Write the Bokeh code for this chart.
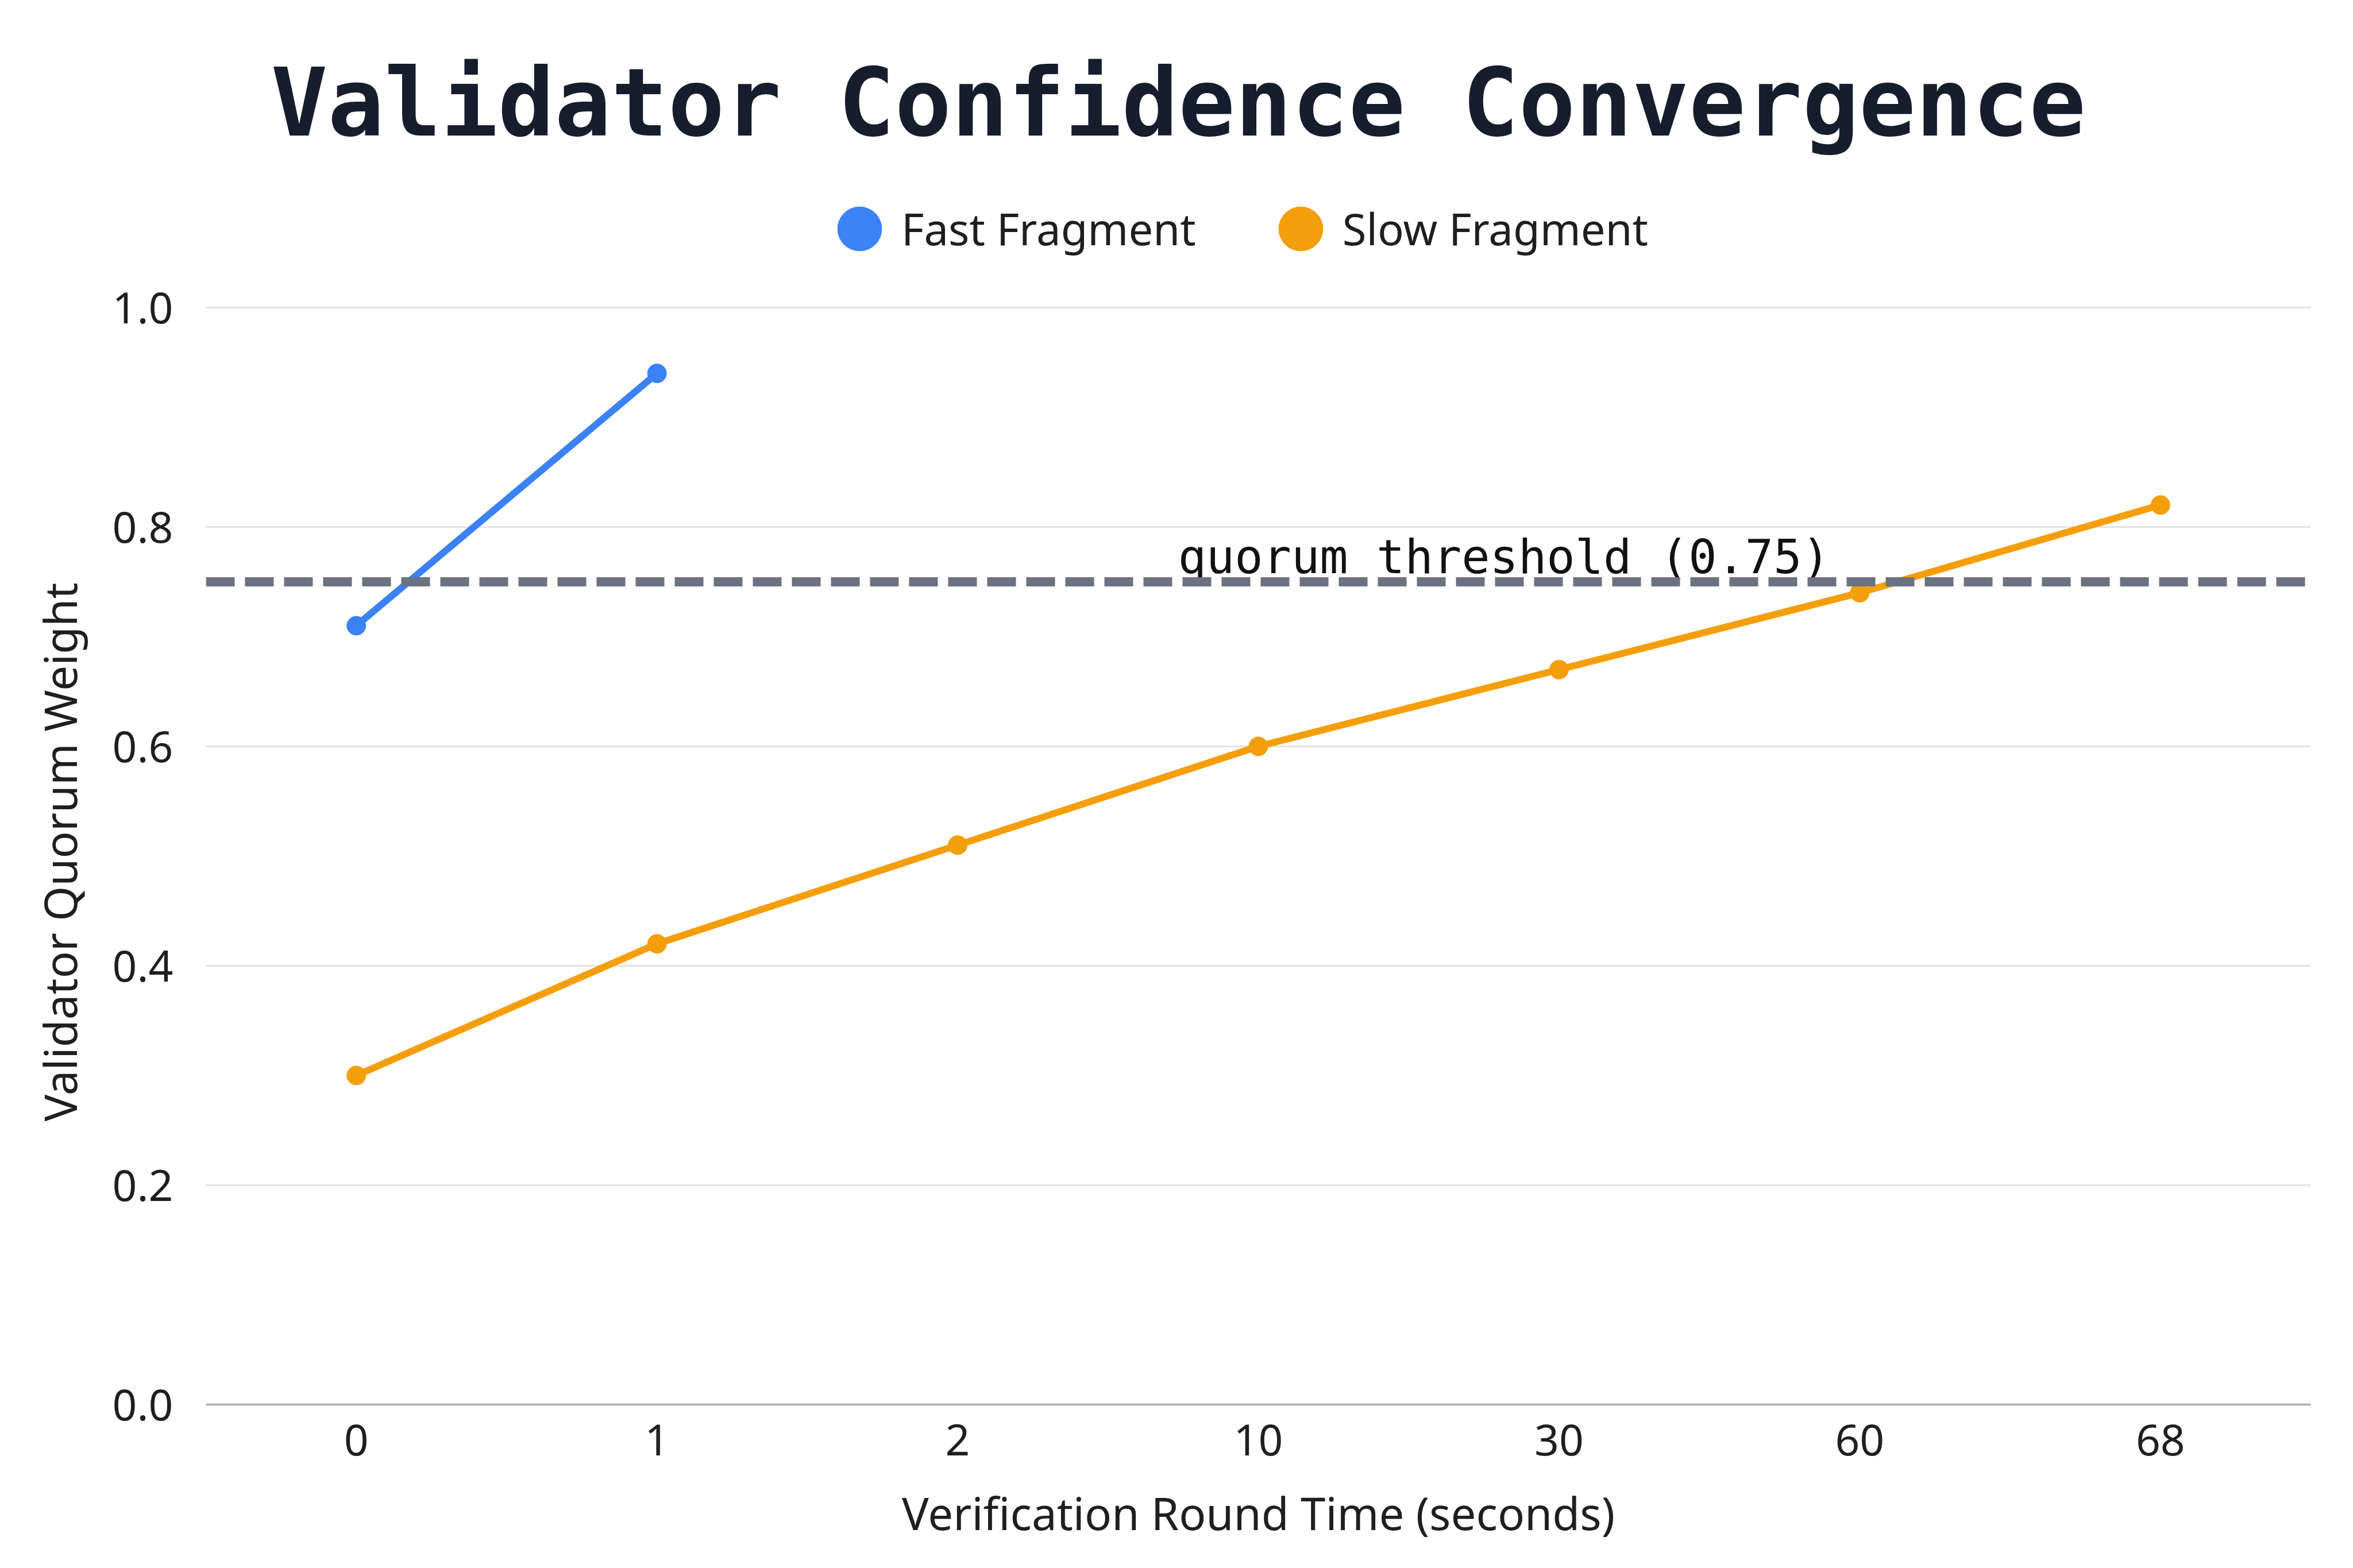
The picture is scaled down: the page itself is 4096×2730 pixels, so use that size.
from bokeh.plotting import figure
from bokeh.models import (FactorRange, Range1d, Span, Legend, LegendItem, Title,
                          FixedTicker, PrintfTickFormatter)
from bokeh.embed import file_html
from bokeh.resources import INLINE
from bokeh.core.properties import value

# ---- data ----
times = ["0", "1", "2", "10", "30", "60", "68"]
fast_times = ["0", "1"]
fast_values = [0.71, 0.94]
slow_times = ["0", "1", "2", "10", "30", "60", "68"]
slow_values = [0.30, 0.42, 0.51, 0.60, 0.67, 0.74, 0.82]
threshold = 0.75
threshold_label = "quorum threshold (0.75)"
y_ticks = [0.0, 0.2, 0.4, 0.6, 0.8, 1.0]
series_names = ["Fast Fragment", "Slow Fragment"]

BLUE = "#3b82f6"
ORANGE = "#f59e0b"
GRAY = "#6b7280"
TEXT = "#1f1f1f"
SANS = "Noto Sans"
MONO = "DejaVu Sans Mono"

# ---- layout geometry (pixels) ----
W, H = 4080, 2700
B_LEFT, B_RIGHT, B_TOP, B_BOTTOM = 358, 58, 290, 255
PX_PER_UNIT = 1910          # height of the 0..1 value band
frame_h = H - B_TOP - B_BOTTOM
y_top = frame_h / PX_PER_UNIT   # headroom above 1.0 holds the legend

p = figure(width=W, height=H,
           x_range=FactorRange(factors=times, range_padding=0),
           y_range=Range1d(0, y_top),
           output_backend="svg", toolbar_location=None,
           min_border_left=B_LEFT, min_border_right=B_RIGHT,
           min_border_top=B_TOP, min_border_bottom=B_BOTTOM)

p.outline_line_color = None
p.background_fill_color = "white"

# title
p.title.text = "Validator Confidence Convergence"
p.title.text_font = MONO
p.title.text_font_style = "bold"
p.title.text_font_size = "164px"
p.title.text_color = "#161d2c"
p.title.align = "left"
p.title.offset = 113
p.title.standoff = 32

# grid
p.xgrid.grid_line_color = None
p.ygrid.grid_line_color = "#e3e3e3"
p.ygrid.grid_line_width = 3

# y axis
p.yaxis.ticker = FixedTicker(ticks=y_ticks)
p.yaxis.formatter = PrintfTickFormatter(format="%.1f")
p.yaxis.axis_line_color = None
p.yaxis.major_tick_line_color = None
p.yaxis.minor_tick_line_color = None
p.yaxis.major_tick_in = 0
p.yaxis.major_tick_out = 0
p.yaxis.major_label_standoff = 57
p.yaxis.major_label_text_font = SANS
p.yaxis.major_label_text_font_size = "75px"
p.yaxis.major_label_text_color = TEXT

# y axis title, centred on the 0..1 band
p.add_layout(Title(text="Validator Quorum Weight", align="left", offset=493,
                   standoff=72, vertical_align="bottom",
                   text_font=SANS, text_font_size="78px", text_font_style="normal",
                   text_color=TEXT), "left")

# x axis
p.xaxis.axis_line_color = "#b5b5b5"
p.xaxis.axis_line_width = 4
p.xaxis.major_tick_line_color = None
p.xaxis.minor_tick_line_color = None
p.xaxis.major_tick_in = 0
p.xaxis.major_tick_out = 0
p.xaxis.major_label_standoff = 34
p.xaxis.major_label_text_font = SANS
p.xaxis.major_label_text_font_size = "75px"
p.xaxis.major_label_text_color = TEXT
p.xaxis.axis_label = "Verification Round Time (seconds)"
p.xaxis.axis_label_text_font = SANS
p.xaxis.axis_label_text_font_size = "78px"
p.xaxis.axis_label_text_font_style = "normal"
p.xaxis.axis_label_text_color = TEXT
p.xaxis.axis_label_standoff = 44

# series
p.line(slow_times, slow_values, line_color=ORANGE, line_width=12)
slow_pts = p.ellipse(slow_times, slow_values, width=33, height=33,
                     width_units="screen", height_units="screen",
                     fill_color=ORANGE, line_color=ORANGE)
p.line(fast_times, fast_values, line_color=BLUE, line_width=12)
fast_pts = p.ellipse(fast_times, fast_values, width=33, height=33,
                     width_units="screen", height_units="screen",
                     fill_color=BLUE, line_color=BLUE)

# threshold
p.add_layout(Span(location=threshold, dimension="width", line_color=GRAY,
                  line_width=16, line_dash="50 18"))
p.text(x=["10"], y=[threshold], text=[threshold_label], x_offset=-140, y_offset=-44,
       text_align="left", text_baseline="alphabetic",
       text_font=value(MONO), text_font_size="82px", text_color="#111111")

# legend, in the headroom above the 1.0 line (screen px from the frame's bottom-left)
legend = Legend(items=[LegendItem(label=series_names[0], renderers=[fast_pts]),
                       LegendItem(label=series_names[1], renderers=[slow_pts])],
                orientation="horizontal", location=(1090, 1996),
                glyph_width=96, glyph_height=96, label_standoff=25, spacing=134,
                label_text_font=SANS, label_text_font_size="76px",
                label_text_color=TEXT, padding=0, margin=0,
                border_line_color=None, background_fill_alpha=0)
p.add_layout(legend)

open("out.html", "w").write(file_html(p, INLINE))
